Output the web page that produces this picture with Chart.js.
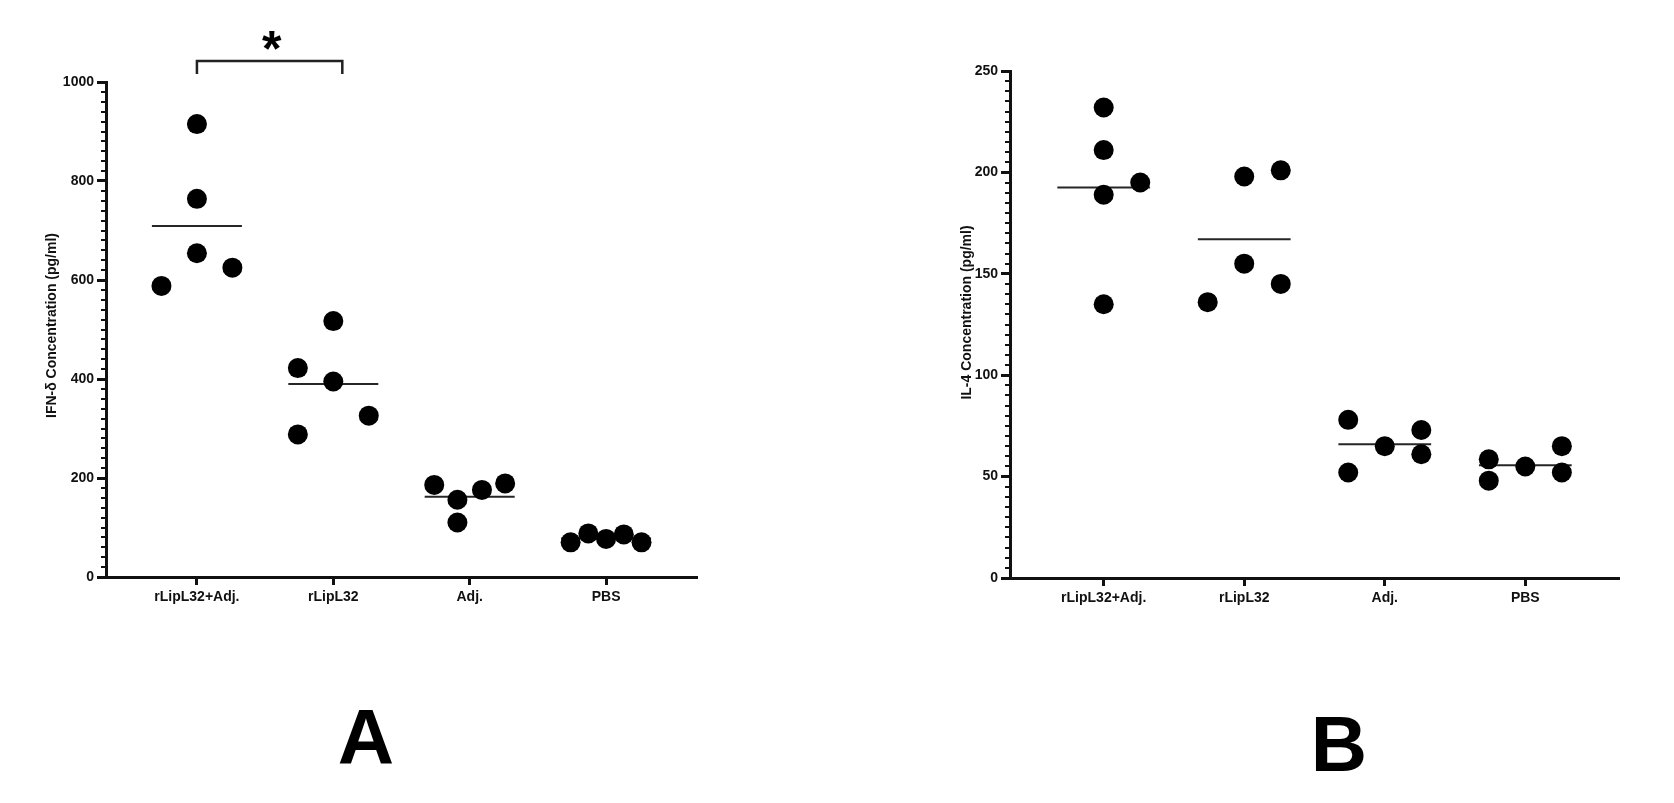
<!DOCTYPE html>
<html>
<head>
<meta charset="utf-8">
<script src="https://cdn.jsdelivr.net/npm/chart.js@4.4.1/dist/chart.umd.min.js"></script>
<style>
  html, body { margin: 0; padding: 0; background: #fff; }
  body { width: 1674px; height: 803px; position: relative; overflow: hidden; }
  .panel { position: absolute; top: 0; width: 837px; height: 803px; }
  #panelA { left: 0; }
  #panelB { left: 837px; }
</style>
</head>
<body>
<div class="panel" id="panelA"><canvas id="chartA"></canvas></div>
<div class="panel" id="panelB"><canvas id="chartB"></canvas></div>
<script>
const groups = ['rLipL32+Adj.', 'rLipL32', 'Adj.', 'PBS'];

// panel A: IFN-δ (pg/ml), one dot per mouse
const ifnValues = [
  [915, 764, 654, 625, 588],
  [517, 422, 395, 326, 288],
  [186, 156, 176, 189, 110],
  [70, 88, 77, 86, 70]
];
// sideways spread of the dots inside a group (in category units)
const ifnSpread = [
  [0, 0, 0, 0.26, -0.26],
  [0, -0.26, 0, 0.26, -0.26],
  [-0.26, -0.09, 0.09, 0.26, -0.09],
  [-0.26, -0.13, 0, 0.13, 0.26]
];
const ifnMeans = [709, 390, 162, 78];
const ifnTicks = [0, 200, 400, 600, 800, 1000];

// panel B: IL-4 (pg/ml)
const il4Values = [
  [232, 211, 189, 195, 135],
  [136, 198, 201, 155, 145],
  [78, 52, 65, 73, 61],
  [58.5, 48, 55, 65, 52]
];
const il4Spread = [
  [0, 0, 0, 0.26, 0],
  [-0.26, 0, 0.26, 0, 0.26],
  [-0.26, -0.26, 0, 0.26, 0.26],
  [-0.26, -0.26, 0, 0.26, 0.26]
];
const il4Means = [192.5, 167, 66, 55.6];
const il4Ticks = [0, 50, 100, 150, 200, 250];

const FONT = "'Liberation Sans', Arial, sans-serif";
const INK = '#111';

function buildDatasets(values, spread, means) {
  const sets = [];
  values.forEach((vals, g) => {
    sets.push({
      data: vals.map((v, i) => ({ x: g + 1 + spread[g][i], y: v })),
      pointRadius: 10,
      pointHoverRadius: 10,
      backgroundColor: '#000',
      borderWidth: 0,
      order: 0
    });
  });
  // mean bars, drawn under the dots
  means.forEach((m, g) => {
    sets.push({
      data: [{ x: g + 1 - 0.33, y: m }, { x: g + 1 + 0.33, y: m }],
      showLine: true,
      pointRadius: 0,
      borderColor: '#262626',
      borderWidth: 2,
      order: 1
    });
  });
  return sets;
}

// minor ticks, y title, panel letter and the significance bracket
const extras = {
  id: 'extras',
  afterDraw(chart, args, o) {
    const { ctx, chartArea } = chart;
    const y = chart.scales.y;
    const x0 = chartArea.left;
    ctx.save();
    ctx.strokeStyle = INK;
    ctx.lineWidth = 2;
    const n = Math.round((y.max - y.min) / o.minor);
    for (let k = 1; k < n; k++) {
      const v = y.min + k * o.minor;
      if (o.ticks.includes(v)) continue;
      const py = Math.round(y.getPixelForValue(v));
      ctx.beginPath();
      ctx.moveTo(x0 - 5, py);
      ctx.lineTo(x0, py);
      ctx.stroke();
    }

    ctx.fillStyle = INK;
    ctx.font = 'bold 14px ' + FONT;
    ctx.textAlign = 'center';
    ctx.textBaseline = 'middle';
    ctx.save();
    ctx.translate(x0 - o.titleDx, (chartArea.top + chartArea.bottom) / 2 + o.titleDy);
    ctx.rotate(-Math.PI / 2);
    ctx.fillText(o.title, 0, 0);
    ctx.restore();

    ctx.fillStyle = '#000';
    ctx.font = 'bold 78px ' + FONT;
    ctx.textBaseline = 'alphabetic';
    ctx.fillText(o.letter, o.letterX, o.letterY);

    if (o.bracket) {
      const xs = chart.scales.x;
      const a = xs.getPixelForValue(o.bracket[0]);
      const b = xs.getPixelForValue(o.bracket[1]) + 9;
      const top = chartArea.top - 21;
      ctx.strokeStyle = '#222';
      ctx.lineWidth = 2.5;
      ctx.beginPath();
      ctx.moveTo(a, chartArea.top - 8);
      ctx.lineTo(a, top);
      ctx.lineTo(b, top);
      ctx.lineTo(b, chartArea.top - 8);
      ctx.stroke();
      ctx.fillStyle = '#000';
      ctx.font = 'bold 50px ' + FONT;
      ctx.fillText(o.mark, (a + b) / 2 + 2, top + 5);
    }
    ctx.restore();
  }
};

function makeChart(id, cfg) {
  const tickFont = { family: FONT, size: 14, weight: 'bold' };
  return new Chart(document.getElementById(id), {
    type: 'scatter',
    data: { datasets: buildDatasets(cfg.values, cfg.spread, cfg.means) },
    options: {
      responsive: true,
      maintainAspectRatio: false,
      animation: false,
      layout: { padding: { left: 0, top: cfg.top, right: cfg.right, bottom: 0 } },
      plugins: {
        legend: { display: false },
        tooltip: { enabled: false },
        extras: cfg.extras
      },
      scales: {
        x: {
          type: 'linear',
          min: 1 / 3,
          max: groups.length + 2 / 3,
          afterBuildTicks: s => { s.ticks = groups.map((g, i) => ({ value: i + 1 })); },
          afterFit: s => { s.height = 803 - cfg.bottom; },
          ticks: {
            callback: v => groups[Math.round(v) - 1],
            font: tickFont, color: INK, padding: 4,
            maxRotation: 0, autoSkip: false
          },
          grid: { drawOnChartArea: false, tickLength: 8, tickWidth: 3, tickColor: INK },
          border: { width: 3, color: INK }
        },
        y: {
          min: cfg.ticks[0],
          max: cfg.ticks[cfg.ticks.length - 1],
          afterBuildTicks: s => { s.ticks = cfg.ticks.map(v => ({ value: v })); },
          afterFit: s => { s.width = cfg.left; },
          ticks: { callback: v => String(v), font: tickFont, color: INK, padding: 3 },
          grid: { drawOnChartArea: false, tickLength: 9, tickWidth: 3, tickColor: INK },
          border: { width: 3, color: INK }
        }
      }
    },
    plugins: [extras]
  });
}

makeChart('chartA', {
  values: ifnValues, spread: ifnSpread, means: ifnMeans, ticks: ifnTicks,
  left: 106, top: 82, right: 837 - 697, bottom: 577,
  extras: {
    minor: 20, ticks: ifnTicks,
    title: 'IFN-δ Concentration (pg/ml)', titleDx: 54, titleDy: -4,
    letter: 'A', letterX: 366, letterY: 764,
    bracket: [1, 2], mark: '*'
  }
});

makeChart('chartB', {
  values: il4Values, spread: il4Spread, means: il4Means, ticks: il4Ticks,
  left: 173, top: 71, right: 837 - 782, bottom: 578,
  extras: {
    minor: 5, ticks: il4Ticks,
    title: 'IL-4 Concentration (pg/ml)', titleDx: 43, titleDy: -12,
    letter: 'B', letterX: 502, letterY: 771
  }
});
</script>
</body>
</html>
